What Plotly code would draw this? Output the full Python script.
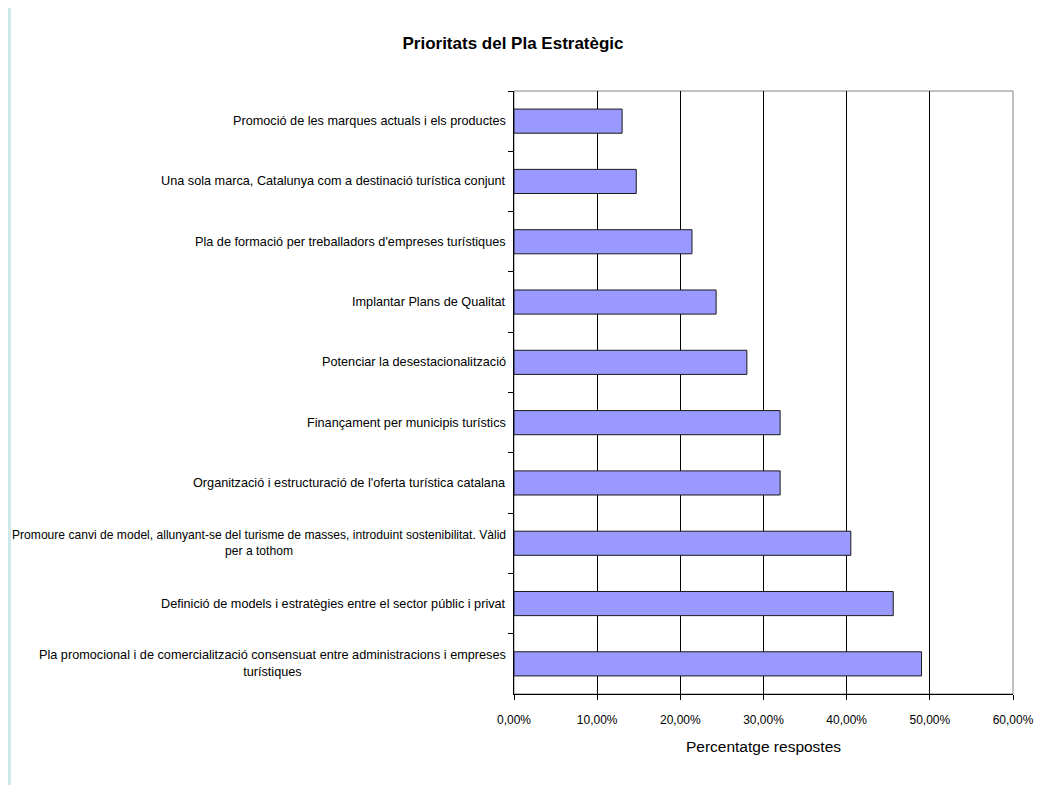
import plotly.graph_objects as go

categories = [
    "Promoció de les marques actuals i els productes",
    "Una sola marca, Catalunya com a destinació turística conjunt",
    "Pla de formació per treballadors d'empreses turístiques",
    "Implantar Plans de Qualitat",
    "Potenciar la desestacionalització",
    "Finançament per municipis turístics",
    "Organització i estructuració de l'oferta turística catalana",
    "Promoure canvi de model, allunyant-se del turisme de masses, introduint sostenibilitat. Vàlid<br>per a tothom",
    "Definició de models i estratègies entre el sector públic i privat",
    "Pla promocional i de comercialització consensuat entre administracions i empreses<br>turístiques",
]
values = [0.130, 0.147, 0.214, 0.243, 0.280, 0.320, 0.320, 0.405, 0.456, 0.490]
x_ticks = [0, 0.1, 0.2, 0.3, 0.4, 0.5, 0.6]

W, H = 1049, 777
ML, MR, MT, MB = 506, 44, 83, 91
FONT = "Liberation Sans, Arial, sans-serif"

fig = go.Figure()
fig.add_trace(go.Bar(
    x=values, y=categories, orientation="h",
    marker=dict(color="#9999FF", line=dict(color="#1a1a1a", width=1)),
    showlegend=False, hoverinfo="skip",
))

annotations = []
for c in categories:
    # the longest label is shrunk slightly so it stays inside the canvas
    size = 12.1 if len(c) > 100 else 12.7
    annotations.append(dict(
        x=0, xref="paper", y=c, yref="y", xanchor="right", yanchor="middle",
        xshift=-6, text=c, showarrow=False, align="center",
        font=dict(family=FONT, size=size, color="#000"),
    ))

pw = W - ML - MR
ph = H - MT - MB
shapes = [
    dict(type="rect", xref="paper", yref="paper", x0=0, x1=1, y0=0, y1=1,
         line=dict(color="#808080", width=1), layer="below"),
    dict(type="rect", xref="paper", yref="paper", x0=-ML / pw, x1=(3 - ML) / pw,
         y0=-MB / ph, y1=1 + MT / ph,
         line=dict(width=0), fillcolor="#cde7ea", layer="below"),
]

fig.update_layout(
    width=W, height=H,
    margin=dict(l=ML, r=MR, t=MT, b=MB),
    paper_bgcolor="#ffffff", plot_bgcolor="#ffffff",
    separators=",.",
    bargap=0.6,
    title=dict(text="<b>Prioritats del Pla Estratègic</b>", x=505 / W, xanchor="center",
               y=1 - 35 / H, yanchor="middle", yref="container",
               font=dict(family=FONT, size=17, color="#000")),
    xaxis=dict(range=[0, 0.6], tickvals=x_ticks, tickformat=".2%",
               showgrid=True, gridcolor="#000", gridwidth=1,
               showline=True, linecolor="#000", linewidth=1,
               ticks="outside", ticklen=5, tickcolor="#000",
               ticklabelstandoff=10,
               tickfont=dict(family=FONT, size=12, color="#000"),
               zeroline=False,
               title=dict(text="Percentatge respostes", standoff=14,
                          font=dict(family=FONT, size=15.5, color="#000"))),
    yaxis=dict(autorange="reversed", showticklabels=False,
               showline=True, linecolor="#000", linewidth=1,
               ticks="outside", ticklen=5, tickcolor="#000", tickson="boundaries",
               showgrid=False, zeroline=False),
    annotations=annotations,
    shapes=shapes,
)

fig.write_html("out.html")
